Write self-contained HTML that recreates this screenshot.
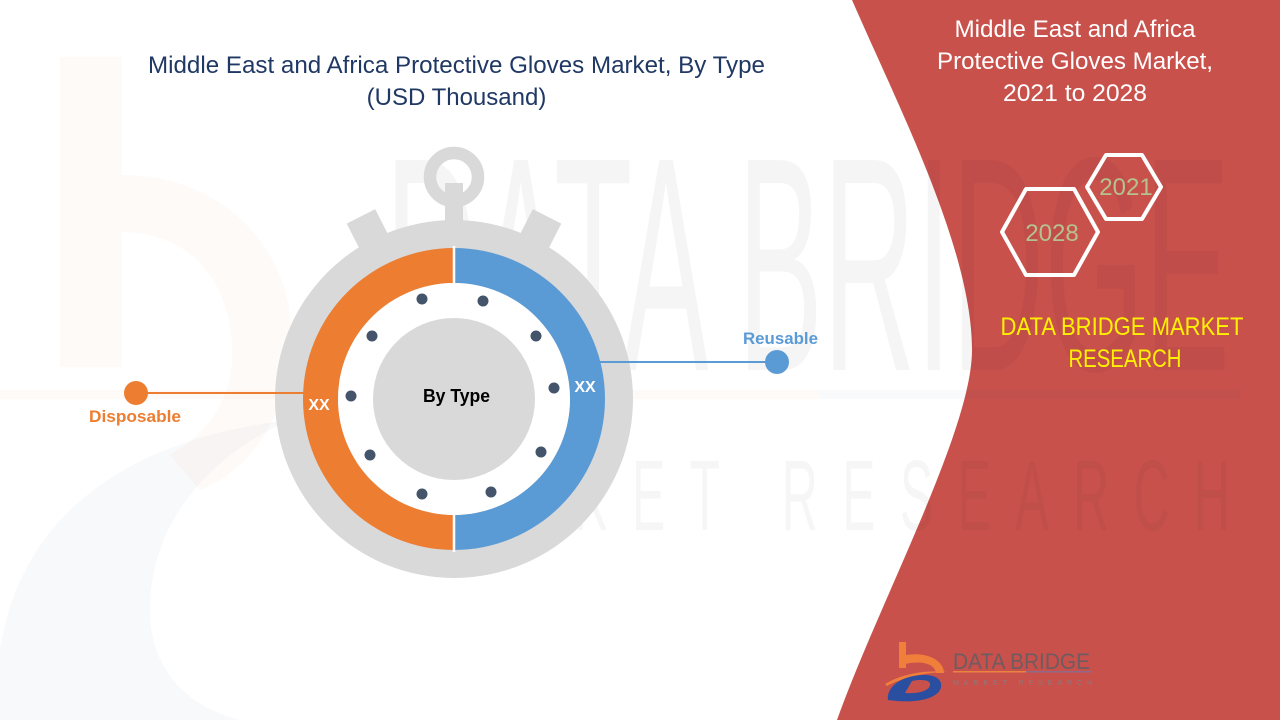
<!DOCTYPE html>
<html>
<head>
<meta charset="utf-8">
<style>
html,body{margin:0;padding:0;background:#fff;}
svg{display:block;}
text{font-family:"Liberation Sans",sans-serif;}
</style>
</head>
<body>
<svg width="1280" height="720" viewBox="0 0 1280 720" xmlns="http://www.w3.org/2000/svg">
  <rect x="0" y="0" width="1280" height="720" fill="#ffffff"/>
  <!-- red right panel -->
  <path d="M852,0 L1280,0 L1280,720 L837,720 C880,600 972,430 972,350 C972,250 900,110 852,0 Z" fill="#C8514C"/>

  <!-- faint watermark -->
  <g>
    <rect x="60" y="57" width="62" height="310" fill="#ED7D31" opacity="0.04"/>
    <path d="M122,175 C230,175 300,260 290,350 C285,420 250,470 200,490 L170,455 C215,430 235,390 232,345 C228,270 180,232 122,232 Z" fill="#ED7D31" opacity="0.04"/>
    <path d="M0,650 C20,520 120,440 290,420 C200,460 150,530 150,610 C150,680 200,710 240,720 L0,720 Z" fill="#2F5597" opacity="0.035"/>
    <rect x="0" y="390" width="820" height="9" fill="#ED7D31" opacity="0.04"/>
    <rect x="820" y="390" width="420" height="9" fill="#2F5597" opacity="0.03"/>
    <text x="385" y="370" font-size="305" textLength="845" lengthAdjust="spacingAndGlyphs" fill="#000" opacity="0.035">DATA BRIDGE</text>
    <text transform="translate(390,530) scale(0.5,1)" font-size="100" textLength="1680" lengthAdjust="spacing" fill="#000" opacity="0.03">MARKET RESEARCH</text>
  </g>

  <!-- title -->
  <text x="456.5" y="73" font-size="24" fill="#203864" text-anchor="middle" textLength="617" lengthAdjust="spacingAndGlyphs">Middle East and Africa Protective Gloves Market, By Type</text>
  <text x="456.5" y="105" font-size="24" fill="#203864" text-anchor="middle">(USD Thousand)</text>

  <!-- stopwatch -->
  <g fill="#D9D9D9">
    <rect x="438" y="-205" width="32" height="50" transform="rotate(-27 454 399) translate(0 399)"/>
    <rect x="438" y="-205" width="32" height="50" transform="rotate(27 454 399) translate(0 399)"/>
    <rect x="445" y="183" width="18" height="45"/>
    <circle cx="454" cy="399" r="179"/>
  </g>
  <circle cx="454" cy="177" r="24" fill="none" stroke="#D9D9D9" stroke-width="12.5"/>

  <!-- ring halves -->
  <path d="M454,248 A151,151 0 0 0 454,550 L454,515 A116,116 0 0 1 454,283 Z" fill="#ED7D31"/>
  <path d="M454,248 A151,151 0 0 1 454,550 L454,515 A116,116 0 0 0 454,283 Z" fill="#5B9BD5"/>
  <circle cx="454" cy="399" r="116" fill="#ffffff"/>
  <line x1="454" y1="246" x2="454" y2="552" stroke="#ffffff" stroke-width="2.5"/>
  <circle cx="454" cy="399" r="81" fill="#D9D9D9"/>

  <!-- dots -->
  <g fill="#44546A">
    <circle cx="422" cy="299" r="5.5"/>
    <circle cx="483" cy="301" r="5.5"/>
    <circle cx="536" cy="336" r="5.5"/>
    <circle cx="554" cy="388" r="5.5"/>
    <circle cx="541" cy="452" r="5.5"/>
    <circle cx="491" cy="492" r="5.5"/>
    <circle cx="422" cy="494" r="5.5"/>
    <circle cx="370" cy="455" r="5.5"/>
    <circle cx="351" cy="396" r="5.5"/>
    <circle cx="372" cy="336" r="5.5"/>
  </g>

  <text x="456.5" y="402" font-size="18" font-weight="bold" fill="#000" text-anchor="middle" textLength="67" lengthAdjust="spacingAndGlyphs">By Type</text>
  <text x="319" y="410" font-size="16" font-weight="bold" fill="#fff" text-anchor="middle">XX</text>
  <text x="585" y="392" font-size="16" font-weight="bold" fill="#fff" text-anchor="middle">XX</text>

  <!-- callouts -->
  <line x1="146" y1="393" x2="306" y2="393" stroke="#ED7D31" stroke-width="2"/>
  <circle cx="136" cy="393" r="12" fill="#ED7D31"/>
  <text x="135" y="422" font-size="17" font-weight="bold" fill="#ED7D31" text-anchor="middle" textLength="92" lengthAdjust="spacingAndGlyphs">Disposable</text>

  <line x1="596" y1="362" x2="770" y2="362" stroke="#5B9BD5" stroke-width="2"/>
  <circle cx="777" cy="362" r="12" fill="#5B9BD5"/>
  <text x="780.5" y="344" font-size="16.5" font-weight="bold" fill="#5B9BD5" text-anchor="middle" textLength="75" lengthAdjust="spacingAndGlyphs">Reusable</text>

  <!-- right panel text -->
  <text x="1075" y="37" font-size="24" fill="#ffffff" text-anchor="middle" textLength="241" lengthAdjust="spacingAndGlyphs">Middle East and Africa</text>
  <text x="1075" y="69" font-size="24" fill="#ffffff" text-anchor="middle" textLength="276" lengthAdjust="spacingAndGlyphs">Protective Gloves Market,</text>
  <text x="1075" y="101" font-size="24" fill="#ffffff" text-anchor="middle" textLength="144" lengthAdjust="spacingAndGlyphs">2021 to 2028</text>

  <!-- hexagons -->
  <polygon points="1002,232 1026,189 1074,189 1098,232 1074,275 1026,275" fill="none" stroke="#ffffff" stroke-width="4" stroke-linejoin="round"/>
  <polygon points="1087,187 1106,155 1142,155 1161,187 1142,219 1106,219" fill="none" stroke="#ffffff" stroke-width="4" stroke-linejoin="round"/>
  <text x="1052" y="241" font-size="24" fill="#B5C28F" text-anchor="middle">2028</text>
  <text x="1126" y="195" font-size="24" fill="#B5C28F" text-anchor="middle">2021</text>

  <text x="1122" y="335" font-size="25" fill="#FFF100" text-anchor="middle" textLength="243" lengthAdjust="spacingAndGlyphs">DATA BRIDGE MARKET</text>
  <text x="1125" y="367" font-size="25" fill="#FFF100" text-anchor="middle" textLength="113" lengthAdjust="spacingAndGlyphs">RESEARCH</text>

  <!-- bottom logo -->
  <g>
    <rect x="899" y="642" width="7" height="26" fill="#F07F3C"/>
    <path d="M902,656 C925,650 944,660 944,673 L936,673 C935,664 922,660 905,664 Z" fill="#F07F3C"/>
    <path d="M885,684 C905,672 930,670 948,672 C930,672 905,676 887,686 Z" fill="#F07F3C"/>
    <path d="M888,700 C886,688 900,676 922,675 C938,674 944,682 940,690 C935,699 915,704 888,700 Z M905,693 C918,694 929,691 930,685 C931,680 922,679 912,681 Z" fill="#2B4FA0" fill-rule="evenodd"/>
    <text x="953" y="669" font-size="22" fill="#6E5C60" textLength="137" lengthAdjust="spacingAndGlyphs">DATA BRIDGE</text>
    <rect x="953" y="671" width="73" height="1.5" fill="#E8843E"/>
    <rect x="1026" y="671" width="66" height="1.5" fill="#8E6A8A"/>
    <text x="953" y="685" font-size="7" fill="#8A7A7E" textLength="139" lengthAdjust="spacing">MARKET RESEARCH</text>
  </g>
</svg>
</body>
</html>
